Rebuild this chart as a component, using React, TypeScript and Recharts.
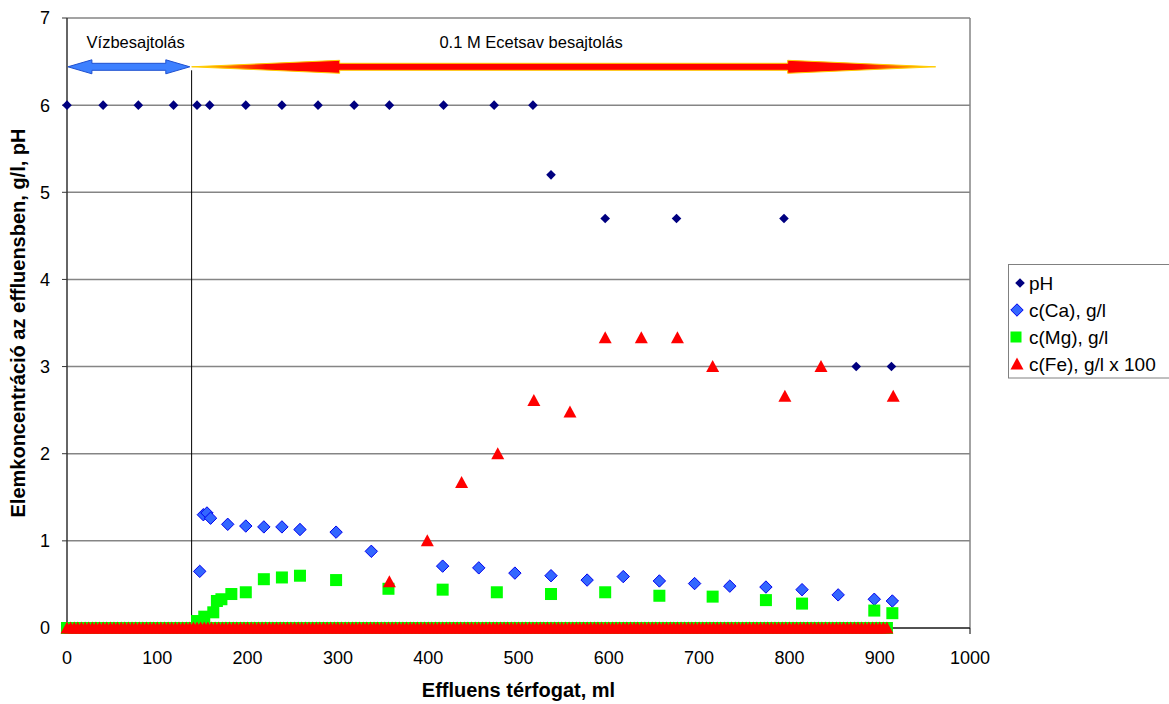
import React from 'react';
import {
  ScatterChart,
  Scatter,
  XAxis,
  YAxis,
  CartesianGrid,
  ReferenceLine,
  ReferenceDot,
} from 'recharts';

// ---------- data ----------
const xTicks = [0, 100, 200, 300, 400, 500, 600, 700, 800, 900, 1000];
const yTicks = [0, 1, 2, 3, 4, 5, 6, 7];

const phVolumes = [0, 40, 79, 118, 144, 158, 198, 238, 278, 318, 357, 417, 473, 516, 536, 596, 675, 794, 874, 913];
const phValues = [6, 6, 6, 6, 6, 6, 6, 6, 6, 6, 6, 6, 6, 6, 5.2, 4.7, 4.7, 4.7, 3.0, 3.0];

const caVolumes = [147, 151, 155, 159, 178, 198, 218, 238, 258, 298, 337, 416, 456, 496, 536, 576, 616, 656, 695, 734, 774, 814, 854, 894, 914];
const caValues = [0.65, 1.3, 1.32, 1.26, 1.19, 1.17, 1.16, 1.16, 1.13, 1.1, 0.88, 0.71, 0.69, 0.63, 0.6, 0.55, 0.59, 0.54, 0.51, 0.48, 0.47, 0.44, 0.38, 0.33, 0.31];

const mgVolumes = [144, 152, 162, 166, 171, 182, 198, 218, 238, 258, 298, 356, 416, 476, 536, 596, 656, 715, 774, 814, 894, 914];
const mgValues = [0.08, 0.13, 0.18, 0.31, 0.33, 0.39, 0.41, 0.56, 0.58, 0.6, 0.55, 0.45, 0.44, 0.41, 0.39, 0.41, 0.37, 0.36, 0.32, 0.28, 0.2, 0.17];

const feVolumes = [357, 399, 437, 477, 517, 557, 596, 636, 676, 715, 795, 835, 915];
const feValues = [0.53, 1.0, 1.67, 2.0, 2.61, 2.48, 3.33, 3.33, 3.33, 3.0, 2.66, 3.0, 2.66];

// readings below detection (plotted at 0) for Mg and Fe
const zeroVolumes = [
  0, 4, 8, 12, 16, 20, 24, 28, 32, 36, 40, 44, 48, 52, 56, 60, 64, 68, 72, 76, 80, 84, 88, 92, 96,
  100, 104, 108, 112, 116, 120, 124, 128, 132, 136, 140, 144, 148, 152, 156, 160, 164, 168, 172, 176, 180, 184, 188, 192, 196,
  200, 204, 208, 212, 216, 220, 224, 228, 232, 236, 240, 244, 248, 252, 256, 260, 264, 268, 272, 276, 280, 284, 288, 292, 296,
  300, 304, 308, 312, 316, 320, 324, 328, 332, 336, 340, 344, 348, 352, 356, 360, 364, 368, 372, 376, 380, 384, 388, 392, 396,
  400, 404, 408, 412, 416, 420, 424, 428, 432, 436, 440, 444, 448, 452, 456, 460, 464, 468, 472, 476, 480, 484, 488, 492, 496,
  500, 504, 508, 512, 516, 520, 524, 528, 532, 536, 540, 544, 548, 552, 556, 560, 564, 568, 572, 576, 580, 584, 588, 592, 596,
  600, 604, 608, 612, 616, 620, 624, 628, 632, 636, 640, 644, 648, 652, 656, 660, 664, 668, 672, 676, 680, 684, 688, 692, 696,
  700, 704, 708, 712, 716, 720, 724, 728, 732, 736, 740, 744, 748, 752, 756, 760, 764, 768, 772, 776, 780, 784, 788, 792, 796,
  800, 804, 808, 812, 816, 820, 824, 828, 832, 836, 840, 844, 848, 852, 856, 860, 864, 868, 872, 876, 880, 884, 888, 892, 896,
  900, 904, 908,
];

const seriesNames = ['pH', 'c(Ca), g/l', 'c(Mg), g/l', 'c(Fe), g/l x 100'];

// annotations (data units)
const waterArrow = { from: 1, to: 136, level: 6.44, label: 'Vízbesajtolás', labelX: 76, labelY: 6.72 };
const acidArrow = { from: 138, to: 962, level: 6.44, label: '0.1 M Ecetsav besajtolás', labelX: 514, labelY: 6.72 };
const switchVolume = 138;
const switchTop = 6.4;

// ---------- build ----------
const toPoints = (xs: number[], ys: number[]) => xs.map((x, i) => ({ x, y: ys[i] }));
const phData = toPoints(phVolumes, phValues);
const caData = toPoints(caVolumes, caValues);
const mgData = [...zeroVolumes.map((x) => ({ x, y: 0 })), ...toPoints(mgVolumes, mgValues)];
const feData = [...zeroVolumes.map((x) => ({ x, y: 0 })), ...toPoints(feVolumes, feValues)];

const FONT = '"Liberation Sans", Arial, sans-serif';
const C_PH = '#000080';
const C_CA = '#3366FF';
const C_CA_STROKE = '#0000EE';
const C_MG = '#00FF00';
const C_FE = '#FF0000';

const diamondPath = (cx: number, cy: number, h: number) =>
  `M${cx},${cy - h}L${cx + h},${cy}L${cx},${cy + h}L${cx - h},${cy}Z`;

const PhShape = (p: any) =>
  p.cx == null ? null : <path d={diamondPath(p.cx, p.cy, 4.8)} fill={C_PH} />;
const CaShape = (p: any) =>
  p.cx == null ? null : (
    <path d={diamondPath(p.cx, p.cy, 6.2)} fill={C_CA} stroke={C_CA_STROKE} strokeWidth={1} />
  );
const MgShape = (p: any) =>
  p.cx == null ? null : <rect x={p.cx - 6} y={p.cy - 6} width={12} height={12} fill={C_MG} />;
const triPath = (cx: number, cy: number) => `M${cx},${cy - 6.5}L${cx + 6.5},${cy + 5.5}L${cx - 6.5},${cy + 5.5}Z`;
const FeShape = (p: any) => (p.cx == null ? null : <path d={triPath(p.cx, p.cy)} fill={C_FE} />);

const BlueArrow = (p: any) => {
  const { x1, y1, x2 } = p;
  if (x1 == null) return null;
  const yc = y1;
  const hl = 24;
  const hh = 7;
  const sh = 3.5;
  const d = `M${x1},${yc}L${x1 + hl},${yc - hh}L${x1 + hl},${yc - sh}L${x2 - hl},${yc - sh}L${x2 - hl},${yc - hh}L${x2},${yc}L${x2 - hl},${yc + hh}L${x2 - hl},${yc + sh}L${x1 + hl},${yc + sh}L${x1 + hl},${yc + hh}Z`;
  return <path d={d} fill="#3D80FF" stroke="#1F50D0" strokeWidth={1} />;
};

const RedArrow = (p: any) => {
  const { x1, y1, x2 } = p;
  if (x1 == null) return null;
  const yc = y1;
  const hl = 148;
  const hh = 6.5;
  const sh = 3.5;
  const d = `M${x1},${yc}L${x1 + hl},${yc - hh}L${x1 + hl},${yc - sh}L${x2 - hl},${yc - sh}L${x2 - hl},${yc - hh}L${x2},${yc}L${x2 - hl},${yc + hh}L${x2 - hl},${yc + sh}L${x1 + hl},${yc + sh}L${x1 + hl},${yc + hh}Z`;
  const f = hl / (x2 - x1);
  return (
    <g>
      <defs>
        <linearGradient id="acidGrad" gradientUnits="userSpaceOnUse" x1={x1} y1={yc} x2={x2} y2={yc}>
          <stop offset={0} stopColor="#FFE000" />
          <stop offset={f * 0.2} stopColor="#FF9000" />
          <stop offset={f * 0.5} stopColor="#FF0800" />
          <stop offset={f} stopColor="#FF0000" />
          <stop offset={1 - f} stopColor="#FF0000" />
          <stop offset={1 - f * 0.5} stopColor="#FF0800" />
          <stop offset={1 - f * 0.2} stopColor="#FF9000" />
          <stop offset={1} stopColor="#FFE000" />
        </linearGradient>
      </defs>
      <path d={d} fill="url(#acidGrad)" stroke="#FFCC00" strokeWidth={1} />
    </g>
  );
};

const makeText = (label: string) => (p: any) =>
  p.cx == null ? null : (
    <text x={p.cx} y={p.cy} textAnchor="middle" dominantBaseline="central" fontFamily={FONT} fontSize={16.5} fill="#000">
      {label}
    </text>
  );

const legendMarkers = [
  (cx: number, cy: number) => <path d={diamondPath(cx, cy, 4.8)} fill={C_PH} />,
  (cx: number, cy: number) => <path d={diamondPath(cx, cy, 6.2)} fill={C_CA} stroke={C_CA_STROKE} strokeWidth={1} />,
  (cx: number, cy: number) => <rect x={cx - 5.5} y={cy - 5.5} width={11} height={11} fill={C_MG} />,
  (cx: number, cy: number) => <path d={triPath(cx, cy)} fill={C_FE} />,
];
const legendMarkerX = [12, 9, 8, 9];

export default function App() {
  return (
    <div style={{ position: 'absolute', left: 0, top: 0, width: 1169, height: 704, background: '#fff', fontFamily: FONT }}>
      <ScatterChart width={1169} height={704} margin={{ top: 18, right: 199, bottom: 0, left: 0 }}>
        <CartesianGrid horizontal vertical={false} stroke="#858585" strokeWidth={1.5} />
        <XAxis
          type="number"
          dataKey="x"
          domain={[0, 1000]}
          ticks={xTicks}
          interval={0}
          height={76}
          tickSize={6}
          tickMargin={17}
          axisLine={{ stroke: '#000', strokeWidth: 1 }}
          tickLine={{ stroke: '#000' }}
          tick={{ fontSize: 18, fill: '#000', fontFamily: FONT }}
          label={{
            value: 'Effluens térfogat, ml',
            position: 'insideBottom',
            offset: 7,
            style: { fontSize: 20, fontWeight: 'bold', fill: '#000', fontFamily: FONT },
          }}
        />
        <YAxis
          type="number"
          dataKey="y"
          domain={[0, 7]}
          ticks={yTicks}
          interval={0}
          width={67}
          tickSize={5}
          tickMargin={12}
          axisLine={{ stroke: '#333', strokeWidth: 1.5 }}
          tickLine={{ stroke: '#333' }}
          tick={{ fontSize: 18, fill: '#000', fontFamily: FONT }}
          label={{
            value: 'Elemkoncentráció az effluensben, g/l, pH',
            angle: -90,
            position: 'center',
            dx: -15.5,
            style: { fontSize: 20, fontWeight: 'bold', fill: '#000', fontFamily: FONT, textAnchor: 'middle' },
          }}
        />
        <ReferenceLine x={1000} stroke="#858585" strokeWidth={1.5} />
        <Scatter name={seriesNames[0]} data={phData} shape={PhShape} isAnimationActive={false} />
        <Scatter name={seriesNames[1]} data={caData} shape={CaShape} isAnimationActive={false} />
        <Scatter name={seriesNames[2]} data={mgData} shape={MgShape} isAnimationActive={false} />
        <Scatter name={seriesNames[3]} data={feData} shape={FeShape} isAnimationActive={false} />
        <ReferenceLine
          segment={[
            { x: switchVolume, y: switchTop },
            { x: switchVolume, y: 0 },
          ]}
          stroke="#000"
          strokeWidth={1}
        />
        <ReferenceLine
          segment={[
            { x: waterArrow.from, y: waterArrow.level },
            { x: waterArrow.to, y: waterArrow.level },
          ]}
          shape={BlueArrow}
        />
        <ReferenceLine
          segment={[
            { x: acidArrow.from, y: acidArrow.level },
            { x: acidArrow.to, y: acidArrow.level },
          ]}
          shape={RedArrow}
        />
        <ReferenceDot x={waterArrow.labelX} y={waterArrow.labelY} r={0} shape={makeText(waterArrow.label)} />
        <ReferenceDot x={acidArrow.labelX} y={acidArrow.labelY} r={0} shape={makeText(acidArrow.label)} />
      </ScatterChart>
      <svg style={{ position: 'absolute', left: 1008, top: 264 }} width={161} height={115}>
        <rect x={0.5} y={0.5} width={170} height={113.5} fill="#fff" stroke="#808080" strokeWidth={1} />
        {seriesNames.map((name, i) => {
          const cy = 19 + i * 27;
          return (
            <g key={name}>
              {legendMarkers[i](legendMarkerX[i], cy)}
              <text x={21} y={cy} dominantBaseline="central" fontFamily={FONT} fontSize={19} fill="#000">
                {name}
              </text>
            </g>
          );
        })}
      </svg>
    </div>
  );
}
